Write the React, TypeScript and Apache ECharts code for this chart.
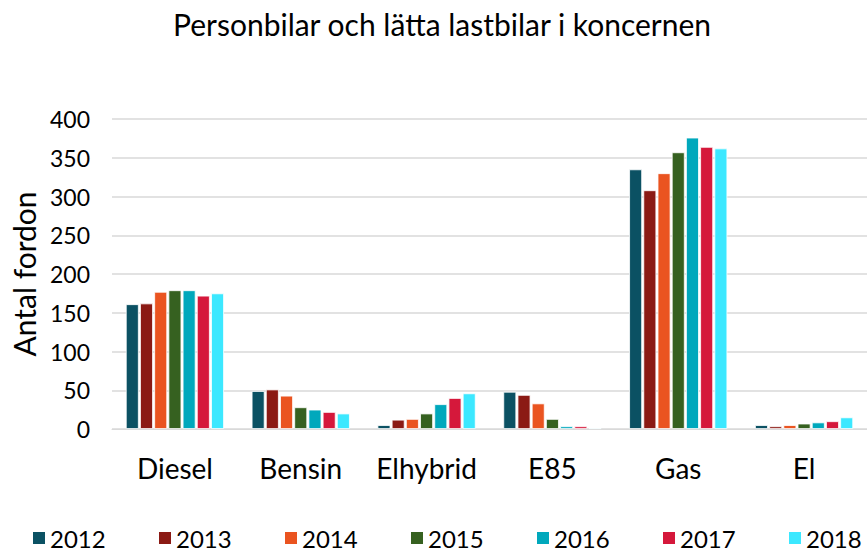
import React, { useEffect, useRef } from "react";
import * as echarts from "echarts";

const categories = ["Diesel", "Bensin", "Elhybrid", "E85", "Gas", "El"];
const years = ["2012", "2013", "2014", "2015", "2016", "2017", "2018"];
const colors = ["#0b5163", "#8b1a14", "#ea5420", "#366120", "#00a8bc", "#d5183b", "#3ce8ff"];
const v2012 = [161, 49, 5, 48, 335, 5];
const v2013 = [162, 51, 12, 44, 308, 3.5];
const v2014 = [177, 43, 13, 33, 330, 5];
const v2015 = [179, 28, 20, 13, 357, 7];
const v2016 = [179, 25, 32, 3.5, 376, 8.5];
const v2017 = [172, 22, 40, 3.5, 364, 10];
const v2018 = [175, 20, 46, 1.5, 362, 15];
const seriesValues = [v2012, v2013, v2014, v2015, v2016, v2017, v2018];
const yTicks = { min: 0, max: 400, interval: 50 };

const FONT = "Lato, 'Open Sans', sans-serif";

export default function App() {
  const ref = useRef<HTMLDivElement>(null);
  useEffect(() => {
    if (!ref.current) return;
    const chart = echarts.init(ref.current, undefined, { renderer: "svg" });
    chart.setOption({
      animation: false,
      textStyle: { fontFamily: FONT, color: "#000" },
      title: {
        text: "Personbilar och lätta lastbilar i koncernen",
        left: 168,
        top: 4,
        textStyle: { fontFamily: FONT, fontSize: 30, fontWeight: "normal", color: "#000" },
      },
      legend: years.map((y, i) => ({
        data: [y],
        left: 26 + 126 * i,
        top: 524,
        padding: [2, 5, 2, 5],
        itemWidth: 14,
        itemHeight: 14,
        itemGap: 0,
        icon: "rect",
        textStyle: { fontFamily: FONT, fontSize: 24, lineHeight: 24, color: "#000", padding: [0, 0, 0, -1] },
      })),
      grid: { left: 112, right: 0, top: 119, bottom: 124, containLabel: false },
      xAxis: {
        type: "category",
        data: categories,
        axisLine: { lineStyle: { color: "#d9d9d9", width: 1 } },
        axisTick: { show: false },
        axisLabel: { fontFamily: FONT, fontSize: 28, color: "#000", margin: 25, interval: 0 },
      },
      yAxis: {
        type: "value",
        min: yTicks.min,
        max: yTicks.max,
        interval: yTicks.interval,
        name: "Antal fordon",
        nameLocation: "middle",
        nameGap: 72,
        nameTextStyle: { fontFamily: FONT, fontSize: 30, color: "#000" },
        axisLine: { show: false },
        axisTick: { show: false },
        axisLabel: { fontFamily: FONT, fontSize: 23, color: "#000", margin: 22 },
        splitLine: { lineStyle: { color: "#d9d9d9", width: 1.5 } },
      },
      series: years.map((y, i) => ({
        name: y,
        type: "bar",
        data: seriesValues[i],
        barGap: "10%",
        barCategoryGap: "22%",
        itemStyle: { color: colors[i], borderColor: "#ffffff", borderWidth: 0.8 },
      })),
    });
    return () => chart.dispose();
  }, []);
  return <div ref={ref} style={{ width: 867, height: 553, position: "absolute", left: 0, top: 0 }} />;
}
